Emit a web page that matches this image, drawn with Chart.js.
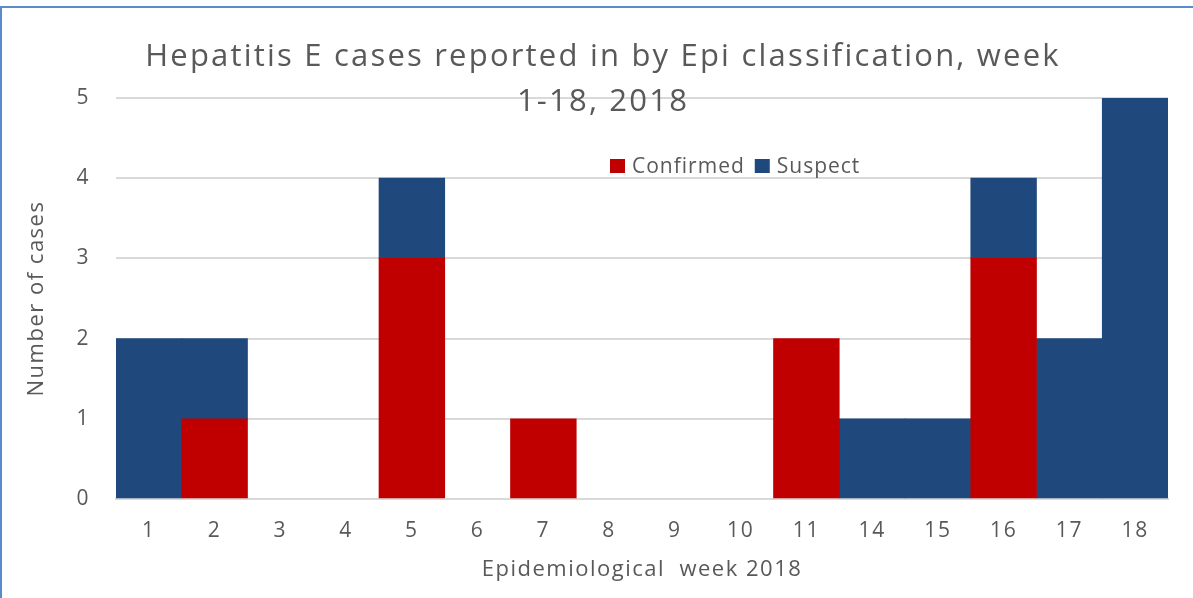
<!DOCTYPE html>
<html>
<head>
<meta charset="utf-8">
<script src="https://cdn.jsdelivr.net/npm/chart.js@4/dist/chart.umd.min.js"></script>
<style>
  html, body { margin: 0; padding: 0; background: #ffffff; }
  #wrap { position: relative; width: 1193px; height: 598px; }
  canvas { display: block; }
</style>
</head>
<body>
<div id="wrap"><canvas id="c" width="1193" height="598"></canvas></div>
<script>
const weeks = ['1','2','3','4','5','6','7','8','9','10','11','14','15','16','17','18'];
const confirmed = [0,1,0,0,3,0,1,0,0,0,2,0,0,3,0,0];
const suspect   = [2,1,0,0,1,0,0,0,0,0,0,1,1,1,2,5];
const yTicks = [0,1,2,3,4,5];
const titleLines = ['Hepatitis E cases reported in by Epi classification, week', '1-18, 2018'];
const seriesNames = ['Confirmed', 'Suspect'];
const seriesColors = ['#C00000', '#1F497D'];

const FONT = "'Open Sans', 'DejaVu Sans', sans-serif";
const TXT = '#595959';

// zero values are not drawn as bars
const asBars = arr => arr.map(v => (v === 0 ? null : v));

const overlayPlugin = {
  id: 'overlay',
  beforeDraw(chart) {
    const ctx = chart.ctx;
    ctx.fillStyle = '#ffffff';
    ctx.fillRect(0, 0, chart.width, chart.height);
    ctx.letterSpacing = '1.5px';
  },
  afterDraw(chart) {
    const ctx = chart.ctx;
    ctx.save();
    // frame
    ctx.fillStyle = '#5B8BC9';
    ctx.fillRect(0, 6, chart.width, 2);
    ctx.fillRect(0, 6, 2, chart.height - 6);
    // title
    ctx.fillStyle = TXT;
    ctx.font = '31px ' + FONT;
    ctx.letterSpacing = '2.2px';
    ctx.textAlign = 'center';
    ctx.textBaseline = 'middle';
    ctx.fillText(titleLines[0], 603, 57);
    ctx.fillText(titleLines[1], 603, 102);
    // legend
    ctx.font = '21px ' + FONT;
    ctx.letterSpacing = '1px';
    ctx.textAlign = 'left';
    let x = 610;
    const y = 166;
    chart.data.datasets.forEach((ds) => {
      ctx.fillStyle = ds.backgroundColor;
      ctx.fillRect(x, y - 7, 15, 14);
      ctx.fillStyle = TXT;
      ctx.fillText(ds.label, x + 22, y + 1);
      x += 22 + ctx.measureText(ds.label).width + 10;
    });
    ctx.restore();
  }
};

new Chart(document.getElementById('c'), {
  type: 'bar',
  data: {
    labels: weeks,
    datasets: [
      { label: seriesNames[0], data: asBars(confirmed), backgroundColor: seriesColors[0], borderWidth: 0 },
      { label: seriesNames[1], data: asBars(suspect), backgroundColor: seriesColors[1], borderWidth: 0 }
    ]
  },
  options: {
    responsive: false,
    animation: false,
    devicePixelRatio: 1,
    layout: { padding: { top: 98, right: 25, left: 0, bottom: 0 } },
    datasets: { bar: { barPercentage: 1, categoryPercentage: 1, skipNull: false } },
    plugins: {
      legend: { display: false },
      title: { display: false },
      tooltip: { enabled: false }
    },
    scales: {
      x: {
        stacked: true,
        afterFit(s) { s.height = 99; },
        grid: { display: false, drawTicks: false },
        border: { display: true, color: '#D9D9D9', width: 2 },
        ticks: { color: TXT, font: { family: FONT, size: 21 }, padding: 19 },
        title: { display: true, text: 'Epidemiological  week 2018', color: TXT,
                 font: { family: FONT, size: 22 }, padding: { top: 4, bottom: 15 } }
      },
      y: {
        stacked: true,
        min: 0, max: 5,
        afterFit(s) { s.width = 116; },
        afterBuildTicks(s) { s.ticks = yTicks.map(v => ({ value: v })); },
        grid: { color: '#D9D9D9', lineWidth: 2, drawTicks: false },
        border: { display: false },
        ticks: { color: TXT, font: { family: FONT, size: 21 }, padding: 26 },
        title: { display: true, text: 'Number of cases', color: TXT,
                 font: { family: FONT, size: 22 }, padding: { top: 24, bottom: 4 } }
      }
    }
  },
  plugins: [overlayPlugin]
});
</script>
</body>
</html>
